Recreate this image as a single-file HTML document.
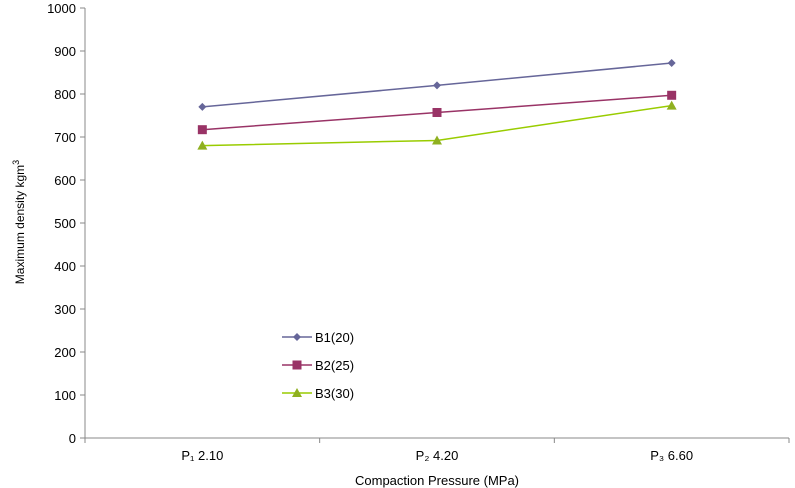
<!DOCTYPE html>
<html><head><meta charset="utf-8"><style>
body{margin:0;background:#fff}
svg{display:block;font-family:"Liberation Sans",Arial,sans-serif}
</style></head><body>
<svg id="chart" width="795" height="488">
<g id="axes"></g><g id="series"></g><g id="legend"></g>
<text x="437" y="485" text-anchor="middle" font-size="13">Compaction Pressure (MPa)</text>
<text transform="translate(24,222) rotate(-90)" text-anchor="middle" font-size="12">Maximum density kgm<tspan dy="-5" font-size="9">3</tspan></text>
</svg>
<script>
const categories = ["P\u2081 2.10", "P\u2082 4.20", "P\u2083 6.60"];
const seriesNames = ["B1(20)", "B2(25)", "B3(30)"];
const b1 = [770, 820, 872];
const b2 = [717, 757, 797];
const b3 = [680, 692, 773];
const yTicks = [0,100,200,300,400,500,600,700,800,900,1000];

const NS="http://www.w3.org/2000/svg";
const X0=85, X1=789, Y0=438, Y1=8;
const colors=["#666699","#993366","#99CC00"];
const markers=["diamond","square","triangle"];
const data=[b1,b2,b3];
const cw=(X1-X0)/categories.length;
function xs(i){return X0+cw*(i+0.5);}
function ys(v){return Y0-(v/1000)*(Y0-Y1);}
function mk(tag,attrs,parent){const e=document.createElementNS(NS,tag);for(const k in attrs)e.setAttribute(k,attrs[k]);parent.appendChild(e);return e;}
const axes=document.getElementById('axes');
let yl=mk('line',{x1:X0,y1:Y1,x2:X0,y2:Y0,stroke:'#888'},axes);


let xl=mk('line',{x1:X0,y1:Y0,x2:X1,y2:Y0,stroke:'#888'},axes);


yTicks.forEach(v=>{
  mk('line',{x1:X0-5,x2:X0,y1:ys(v),y2:ys(v),stroke:'#888'},axes);
  const t=mk('text',{x:X0-9,y:ys(v)+5,'text-anchor':'end','font-size':13},axes);
  t.textContent=v;
  
  
});
for(let i=0;i<=categories.length;i++){
  mk('line',{x1:X0+cw*i,x2:X0+cw*i,y1:Y0,y2:Y0+5,stroke:'#888'},axes);
}
categories.forEach((c,i)=>{
  const t=mk('text',{x:xs(i),y:Y0+22,'text-anchor':'middle','font-size':13},axes);
  t.textContent=c;
  
  
});
function marker(type,x,y,col,parent){
  let e;
  if(type==='diamond') e=mk('polygon',{points:`${x},${y-4} ${x+4},${y} ${x},${y+4} ${x-4},${y}`,fill:col},parent);
  else if(type==='square') e=mk('rect',{x:x-4.5,y:y-4.5,width:9,height:9,fill:col},parent);
  else e=mk('polygon',{points:`${x},${y-5} ${x+5},${y+4} ${x-5},${y+4}`,fill:'#8fb020'},parent);
  return e;
}
const sg=document.getElementById('series');
data.forEach((arr,s)=>{
  const g=mk('g',{},sg);
  
  
  const pl=mk('polyline',{points:arr.map((v,i)=>xs(i)+','+ys(v)).join(' '),fill:'none',stroke:colors[s],'stroke-width':1.5},g);
  
  
  arr.forEach((v,i)=>{
    const m=marker(markers[s],xs(i),ys(v),colors[s],g);
    
    
  });
});
const lg=document.getElementById('legend');


seriesNames.forEach((n,s)=>{
  const y=337+s*28;
  const g=mk('g',{},lg);
  
  
  mk('line',{x1:282,x2:312,y1:y,y2:y,stroke:colors[s],'stroke-width':1.5},g);
  marker(markers[s],297,y,colors[s],g);
  const t=mk('text',{x:315,y:y+5,'font-size':13},g);
  t.textContent=n;
});
</script>
</body></html>
